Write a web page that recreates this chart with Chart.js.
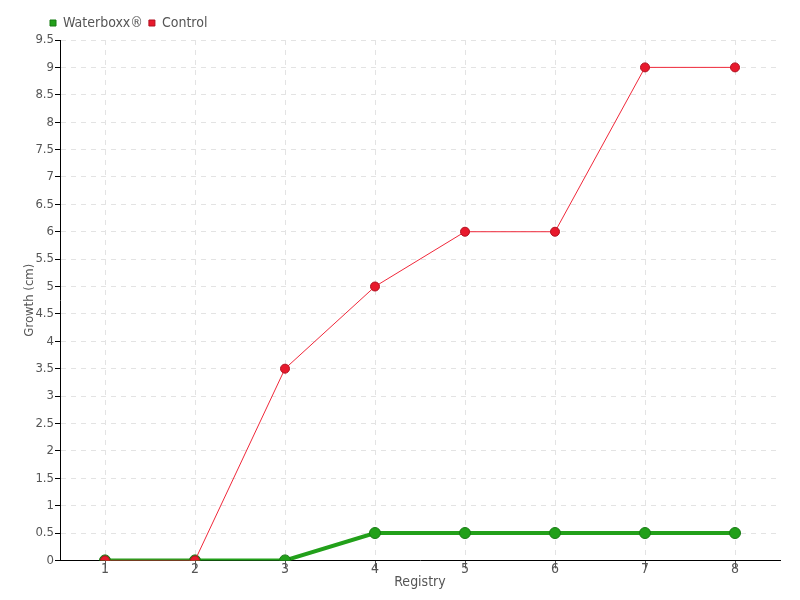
<!DOCTYPE html>
<html>
<head>
<meta charset="utf-8">
<script src="https://cdn.jsdelivr.net/npm/chart.js@4/dist/chart.umd.min.js"></script>
<style>
    body { margin: 0; background: #fff; }
</style>
</head>
<body>
<canvas id="growthChart" width="800" height="600"></canvas>
<script>
const registries = ['1', '2', '3', '4', '5', '6', '7', '8'];
const waterboxx = [0, 0, 0, 0.5, 0.5, 0.5, 0.5, 0.5];
const control = [0, 0, 3.5, 5, 6, 6, 9, 9];

Chart.defaults.font.family = "'DejaVu Sans Condensed', sans-serif";
Chart.defaults.color = '#555';

// shift the legend right so it starts near the y axis like the original
const legendShift = {
    id: 'legendShift',
    afterLayout(chart) {
        chart.legend.left += 22;
    }
};

const ctx = document.getElementById('growthChart').getContext('2d');
new Chart(ctx, {
    type: 'line',
    data: {
        labels: registries,
        datasets: [{
            label: 'Waterboxx®',
            data: waterboxx,
            borderColor: '#22a01a',
            backgroundColor: '#22a01a',
            pointBackgroundColor: '#22a01a',
            pointBorderColor: '#177a13',
            borderWidth: 4,
            pointRadius: 5.5,
            pointBorderWidth: 1,
            tension: 0,
            order: 2
        }, {
            label: 'Control',
            data: control,
            borderColor: '#f0283a',
            backgroundColor: '#e8192c',
            pointBackgroundColor: '#e8192c',
            pointBorderColor: '#b01020',
            borderWidth: 1,
            pointRadius: 4.5,
            pointBorderWidth: 1,
            tension: 0,
            order: 1
        }]
    },
    options: {
        responsive: false,
        animation: false,
        layout: { padding: { left: 22, right: 20, top: 10, bottom: 9 } },
        plugins: {
            legend: {
                align: 'start',
                labels: {
                    usePointStyle: true,
                    pointStyle: 'rect',
                    boxWidth: 6,
                    boxHeight: 6,
                    padding: 6,
                    color: '#555',
                    font: { size: 14 },
                    sort: (a, b) => a.datasetIndex - b.datasetIndex
                }
            },
            tooltip: { enabled: false }
        },
        scales: {
            x: {
                offset: true,
                title: { display: true, text: 'Registry', font: { size: 14 }, padding: { top: 3, bottom: 0 } },
                grid: { color: '#e3e3e3', tickColor: '#555', tickLength: 8, offset: false },
                border: { color: '#000', dash: [5, 5] },
                ticks: { font: { size: 14 }, padding: -7 }
            },
            y: {
                min: 0,
                max: 9.5,
                title: { display: true, text: 'Growth (cm)', font: { size: 13 }, padding: 0 },
                grid: { color: '#e3e3e3', tickColor: '#000', tickLength: 5 },
                border: { color: '#000', dash: [5, 5] },
                ticks: {
                    stepSize: 0.5,
                    font: { size: 13 },
                    padding: 1,
                    autoSkip: false,
                    callback: v => String(v)
                },
                afterFit: scale => { scale.width = 38; }
            }
        }
    },
    plugins: [legendShift]
});
</script>
</body>
</html>
